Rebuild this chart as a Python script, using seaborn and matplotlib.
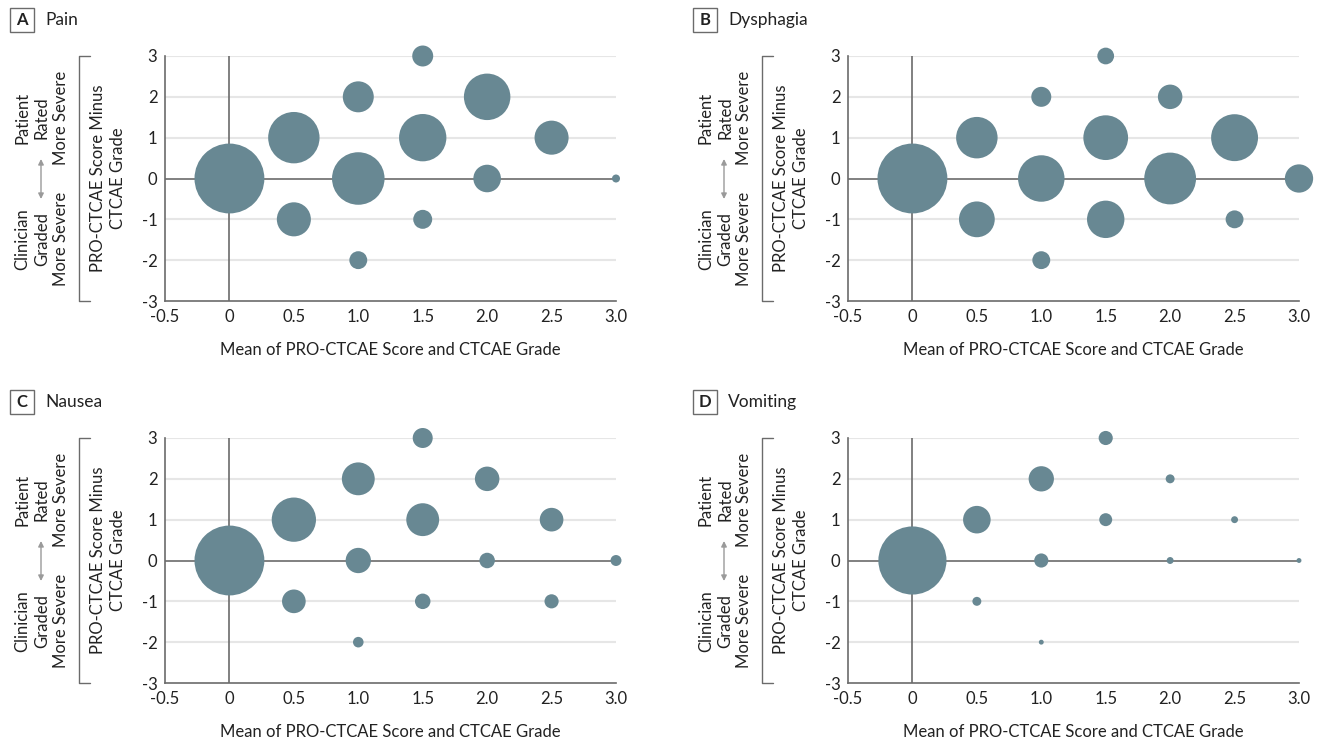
"""Bland-Altman style bubble plots: PRO-CTCAE score vs CTCAE grade"""
import numpy as np
import pandas as pd
import seaborn as sns
import matplotlib.pyplot as plt
from matplotlib.patches import Rectangle
from matplotlib.lines import Line2D

# x = mean of PRO-CTCAE score and CTCAE grade, y = difference,
# n = number of patients at that point (drawn as bubble area)
pain_x = [0, 0.5, 0.5, 1.0, 1.0, 1.0, 1.5, 1.5, 1.5, 2.0, 2.0, 2.5, 3.0]
pain_y = [0, 1, -1, 2, 0, -2, 3, 1, -1, 2, 0, 1, 0]
pain_n = [122, 66, 29, 24, 69, 8, 11, 56, 9, 54, 19, 29, 1.6]

dysph_x = [0, 0.5, 0.5, 1.0, 1.0, 1.0, 1.5, 1.5, 1.5, 2.0, 2.0, 2.5, 2.5, 3.0]
dysph_y = [0, 1, -1, 2, 0, -2, 3, 1, -1, 2, 0, 1, -1, 0]
dysph_n = [122, 43, 32, 10, 54, 8, 7, 50, 35, 15, 67, 55, 8, 20]

naus_x = [0, 0.5, 0.5, 1.0, 1.0, 1.0, 1.5, 1.5, 1.5, 2.0, 2.0, 2.5, 2.5, 3.0]
naus_y = [0, 1, -1, 2, 0, -2, 3, 1, -1, 2, 0, 1, -1, 0]
naus_n = [122, 49, 14, 27, 16, 2.8, 10, 27, 6, 15, 6, 14, 5, 3]

vomit_x = [0, 0.5, 0.5, 1.0, 1.0, 1.0, 1.5, 1.5, 2.0, 2.0, 2.5, 3.0]
vomit_y = [0, 1, -1, 2, 0, -2, 3, 1, 2, 0, 1, 0]
vomit_n = [116, 19, 2, 16, 5, 0.6, 5, 4.2, 2, 1.2, 1.2, 0.6]

letters = ['A', 'B', 'C', 'D']
titles = ['Pain', 'Dysphagia', 'Nausea', 'Vomiting']
x_ticks = [-0.5, 0, 0.5, 1.0, 1.5, 2.0, 2.5, 3.0]
x_ticklabels = ['-0.5', '0', '0.5', '1.0', '1.5', '2.0', '2.5', '3.0']
y_ticks = [-3, -2, -1, 0, 1, 2, 3]
y_ticklabels = ['-3', '-2', '-1', '0', '1', '2', '3']

panels = [
    (pain_x, pain_y, pain_n),
    (dysph_x, dysph_y, dysph_n),
    (naus_x, naus_y, naus_n),
    (vomit_x, vomit_y, vomit_n),
]

sns.set_style('white')
plt.rcParams['font.family'] = ['Lato', 'DejaVu Sans']

W, H = 1328, 743
BUBBLE = '#688893'
DARK = '#6b6b6b'
TEXT = '#222222'
FS = 12
N_MAX = 125
S_MAX = 2.0736 * 10 * N_MAX  # area in pt^2 for N_MAX

fig = plt.figure(figsize=(W / 100, H / 100), dpi=100)


def fx(px):
    return px / W


def fy(py):
    return 1 - py / H


# axes left/top in pixels
origins = [(165, 56), (848, 56), (165, 438), (848, 438)]
AW, AH = 451, 245

for (L, T), (xs, ys, ns), letter, title in zip(origins, panels, letters, titles):
    ax = fig.add_axes([fx(L), fy(T + AH), AW / W, AH / H])
    df = pd.DataFrame({'x': xs, 'y': ys, 'n': ns})

    # light grid lines and the two reference lines
    for yv in [-2, -1, 1, 2, 3]:
        ax.axhline(yv, color='#e6e6e6', lw=1.5, zorder=0)
    ax.axhline(0, color=DARK, lw=1.2, zorder=1)
    ax.axvline(0, color=DARK, lw=1.2, zorder=1)

    sns.scatterplot(data=df, x='x', y='y', size='n', sizes=(0, S_MAX),
                    size_norm=(0, N_MAX), color=BUBBLE, linewidth=0,
                    alpha=1, legend=False, ax=ax, zorder=3, clip_on=False)

    ax.set_xlim(-0.5, 3.0)
    ax.set_ylim(-3, 3)
    ax.set_xticks(x_ticks)
    ax.set_xticklabels(x_ticklabels)
    ax.set_yticks(y_ticks)
    ax.set_yticklabels(y_ticklabels)
    ax.set_xlabel('')
    ax.set_ylabel('')
    sns.despine(ax=ax)
    for sp in ['left', 'bottom']:
        ax.spines[sp].set_color(DARK)
        ax.spines[sp].set_linewidth(1.2)
    ax.tick_params(axis='both', which='major', direction='out', length=4,
                   width=1.0, color=DARK, labelsize=FS, labelcolor=TEXT, pad=1.5)

    # x axis title
    fig.text(fx(L + AW / 2), fy(T + 294), 'Mean of PRO-CTCAE Score and CTCAE Grade',
             ha='center', va='center', fontsize=FS, color=TEXT)
    # y axis title
    fig.text(fx(L - 57), fy(T + AH / 2), 'PRO-CTCAE Score Minus\nCTCAE Grade',
             ha='center', va='center', rotation=90, fontsize=FS, color=TEXT,
             linespacing=1.3)
    # bracket
    bx = L - 86
    fig.add_artist(Line2D([fx(bx + 11), fx(bx), fx(bx), fx(bx + 11)],
                          [fy(T), fy(T), fy(T + AH), fy(T + AH)],
                          color=DARK, lw=1.0))
    # direction annotations
    fig.text(fx(L - 123), fy(T + 62), 'Patient\nRated\nMore Severe',
             ha='center', va='center', rotation=90, fontsize=FS, color=TEXT,
             linespacing=1.25)
    fig.text(fx(L - 123), fy(T + 183), 'Clinician\nGraded\nMore Severe',
             ha='center', va='center', rotation=90, fontsize=FS, color=TEXT,
             linespacing=1.25)
    fig.add_artist(plt.Annotation('', xy=(fx(L - 124), fy(T + 103)), xycoords='figure fraction',
                                  xytext=(fx(L - 124), fy(T + 143)), textcoords='figure fraction',
                                  arrowprops=dict(arrowstyle='<|-|>', color='#9a9a9a', lw=1.0,
                                                  mutation_scale=8, shrinkA=0, shrinkB=0)))
    # panel letter box and title
    fig.add_artist(Rectangle((fx(L - 155), fy(T - 24)), 24 / W, 24 / H,
                             transform=fig.transFigure, fill=False, ec=DARK, lw=1.0))
    fig.text(fx(L - 143), fy(T - 36), letter, ha='center', va='center',
             fontsize=FS, fontweight='bold', color=TEXT)
    fig.text(fx(L - 120), fy(T - 36), title, ha='left', va='center',
             fontsize=12.5, color=TEXT)

plt.savefig('out.png', dpi=100)
plt.close()
